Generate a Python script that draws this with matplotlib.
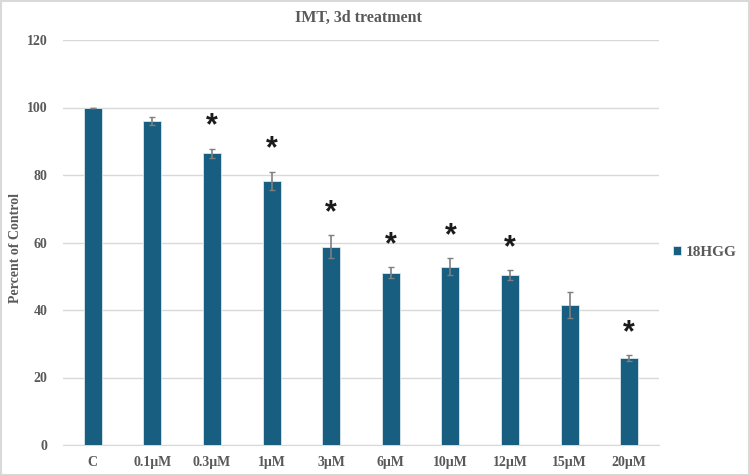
import matplotlib.pyplot as plt
import numpy as np

categorias = ['C', '0.1μM', '0.3μM', '1μM', '3μM', '6μM', '10μM', '12μM', '15μM', '20μM']
valores = [100, 96.1, 86.4, 78.3, 58.8, 51.1, 52.8, 50.4, 41.4, 25.8]
erros = [0, 1.2, 1.4, 2.7, 3.3, 1.7, 2.5, 1.5, 3.8, 0.9]
significativo = [False, False, True, True, True, True, True, True, False, True]

cor_barra = '#175e80'
cor_texto = '#595959'
fonte = 'Liberation Serif'

fig = plt.figure(figsize=(7.5, 4.75), dpi=100)
ax = fig.add_axes([63 / 750, 1 - 445 / 475, 596 / 750, 405 / 475])

ind = np.arange(len(categorias))
barras = ax.bar(ind, valores, 0.3, color=cor_barra, edgecolor='#dce6ec', linewidth=0.6,
                yerr=erros, error_kw=dict(ecolor='#7f7f7f', elinewidth=1.2, capsize=2.5, capthick=1),
                label='18HGG', zorder=3)

for i in ind:
    if significativo[i]:
        ax.text(i, valores[i] + erros[i] + 6.5, '*', ha='center', va='center',
                fontsize=22, fontweight='bold', color='#1a1a1a', family='Liberation Sans')

ax.set_xlim(-0.5, len(categorias) - 0.5)
ax.set_ylim(0, 120)
ax.set_yticks(np.arange(0, 121, 20))
ax.yaxis.grid(True, color='#d9d9d9', linewidth=1)
ax.set_axisbelow(True)
for lado in ['top', 'right', 'left']:
    ax.spines[lado].set_visible(False)
ax.spines['bottom'].set_color('#d9d9d9')
ax.tick_params(axis='y', length=0, pad=11)
ax.tick_params(axis='x', length=0, pad=8)
ax.set_xticks(ind)
ax.set_xticklabels(categorias)
for rotulo in ax.get_xticklabels() + ax.get_yticklabels():
    rotulo.set_fontfamily(fonte)
    rotulo.set_fontweight('bold')
    rotulo.set_fontsize(10)
    rotulo.set_color(cor_texto)

fig.text(16 / 750, 1 - 248 / 475, 'Percent of Control', rotation=90, ha='center', va='center',
         family=fonte, fontweight='bold', fontsize=10, color=cor_texto)
fig.text(358 / 750, 1 - 18 / 475, 'IMT, 3d treatment', ha='center', va='center',
         family=fonte, fontweight='bold', fontsize=11.5, color=cor_texto)

leg = ax.legend(loc='center left', bbox_to_anchor=(1.0, 0.475), frameon=False,
                handlelength=0.55, handleheight=0.55, handletextpad=0.3,
                prop={'family': fonte, 'weight': 'bold', 'size': 11})
for t in leg.get_texts():
    t.set_color(cor_texto)

fig.patches.append(plt.Rectangle((0.001, 0.001), 0.998, 0.997, transform=fig.transFigure,
                                 fill=False, edgecolor='#d9d9d9', linewidth=1.5))

plt.savefig('out.png')
